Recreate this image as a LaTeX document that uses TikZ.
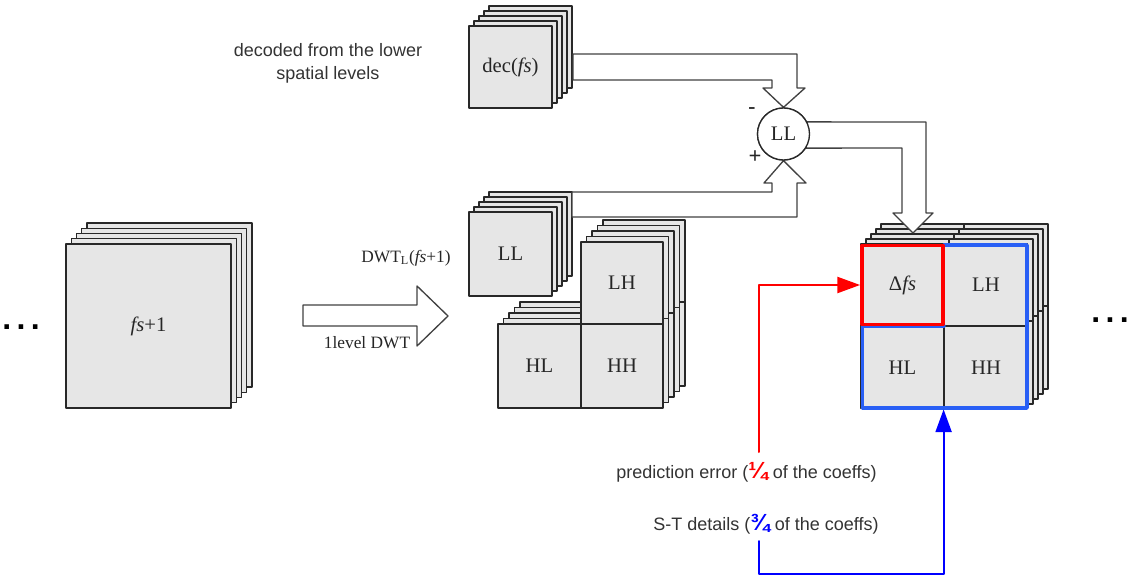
\documentclass[tikz,border=0pt]{standalone}
\usepackage{fontspec}
\setmainfont{Liberation Serif}
\setsansfont{Liberation Sans}
\usetikzlibrary{arrows.meta}

\definecolor{sheetfill}{RGB}{230,230,230}
\definecolor{edgegray}{RGB}{40,40,40}
\definecolor{pipegray}{RGB}{65,65,65}
\definecolor{errred}{RGB}{255,0,0}
\definecolor{detblue}{RGB}{0,0,255}
\definecolor{boxblue}{RGB}{40,95,245}

\newcommand{\coeffpart}[2]{{\color{#1}\sffamily\bfseries\fontsize{17.5}{17}\selectfont #2}}

\begin{document}
\begin{tikzpicture}[
                x=0.75pt,
                y=-0.75pt,
                line cap=round,
                line join=round,
                sheet/.style={draw=edgegray, fill=sheetfill, line width=1.1pt},
                pipe/.style={draw=pipegray, fill=white, line width=1pt},
                cell/.style={sheet, minimum width=62.5pt, minimum height=61.75pt, inner sep=0pt, lbl},
                lbl/.style={font=\fontsize{15.5}{17}\selectfont, text=black!85, inner sep=1pt},
                dwtlbl/.style={font=\fontsize{13}{15}\selectfont, text=black!85, inner sep=1pt},
                note/.style={font=\sffamily\fontsize{13.5}{17.25}\selectfont, text=black!80, align=center, inner sep=1pt},
                ellip/.style={font=\sffamily\bfseries\fontsize{24}{24}\selectfont, inner sep=0pt},
                flow/.style={line width=1.5pt, ->},
                >={Triangle[length=17pt,width=12pt]}
            ]

            \useasboundingbox (0,0) rectangle (1132,578);

            % fs+1 frames
            \foreach \k in {4,...,0}
                \draw[sheet] ({66+5.25*\k},{244-5.25*\k}) rectangle +(165,164);
            \node[lbl] (fsnext) at (148.5,326) {\textit{fs}+1};

            \node[ellip] (dotsleft) at (21,327) {.\hspace{4pt}.\hspace{4pt}.};
            \node[ellip] (dotsright) at (1110,320) {.\hspace{4pt}.\hspace{4pt}.};

            % one level DWT
            \draw[pipe] (303,305) -- (417,305) -- (417,286) -- (448,316)
                -- (417,346) -- (417,326) -- (303,326) -- cycle;
            \node[dwtlbl] (dwtlab) at (406,258) {DWT\textsubscript{L}(\textit{fs}+1)};
            \node[dwtlbl] (onelevel) at (367,343) {1level DWT};

            % decoded frames
            \foreach \k in {4,...,0}
                \draw[sheet] ({469+5*\k},{26-5*\k}) rectangle +(83,82);
            \node[lbl] (dec) at (510.5,67) {dec(\textit{fs})};
            \node[note] (decnote) at (328,63) {decoded from the lower\\spatial levels};

            % LL subbands
            \foreach \k in {4,...,0}
                \draw[sheet] ({469+5*\k},{212-5*\k}) rectangle +(83,84);
            \node[lbl] (llmid) at (510.5,254) {LL};

            % detail subbands
            \foreach \k in {4,...,0} {
                \draw[sheet] ({581+5.5*\k},{242-5.5*\k}) rectangle +(82,82);
                \draw[sheet] ({498+5.5*\k},{324-5.5*\k}) rectangle +(83,84);
                \draw[sheet] ({581+5.5*\k},{324-5.5*\k}) rectangle +(82,84);
            }
            \node[lbl] (lhmid) at (622,283) {LH};
            \node[lbl] (hlmid) at (539.5,366) {HL};
            \node[lbl] (hhmid) at (622,366) {HH};

            % predicted frames
            \foreach \k in {4,...,1} {
                \draw[sheet] ({861+5*\k},{244-5*\k}) rectangle +(167,165);
                \draw[edgegray, line width=1.1pt]
                ({944+5*\k},{244-5*\k}) -- +(0,165)
                ({861+5*\k},{326-5*\k}) -- +(167,0);
            }
            \node[cell] (dfs) at (902.5,285) {Δ\textit{fs}};
            \node[cell] (lhright) at (986,285) {LH};
            \node[cell] (hlright) at (902.5,367.5) {HL};
            \node[cell] (hhright) at (986,367.5) {HH};

            \draw[boxblue, line width=2.6pt]
            (944,245) -- (1027,245) -- (1027,408) -- (862.5,408) -- (862.5,326) -- (944,326);
            \draw[errred, line width=2.6pt] (862,245.5) rectangle (943,324.5);

            % block arrows round the LL difference
            \node[circle, draw=edgegray, line width=1pt, minimum size=39pt, inner sep=0pt] (sum) at (783.5,134) {};
            \draw[pipe] (573,54) -- (797,54) -- (797,88) -- (805,88) -- (sum.north)
                -- (763,88) -- (772,88) -- (772,80) -- (573,80) -- cycle;
            \draw[pipe] (572,192) -- (772,192) -- (772,183) -- (764,183) -- (sum.south)
                -- (806,183) -- (797,183) -- (797,217) -- (572,217) -- cycle;
            \draw[pipe] (sum.27.5) -- (926,122) -- (926,213) -- (933,213) -- (913,233)
                -- (893,213) -- (902,213) -- (902,148) -- (sum.-32.6) -- cycle;
            \node[circle, draw=edgegray, fill=white, line width=1pt, minimum size=39pt, inner sep=0pt, lbl] at (sum) {LL};
            \node[lbl, font=\bfseries\fontsize{16}{17}\selectfont] (minus) at (752,111) {-};
            \node[lbl, font=\bfseries\fontsize{17}{17}\selectfont] (plus) at (755,157) {+};

            % which coefficients are coded
            \node[note] (prednote) at (746.5,472) {prediction error (\coeffpart{errred}{¼} of the coeffs)};
            \node[note] (stnote) at (766,524) {S-T details (\coeffpart{detblue}{¾} of the coeffs)};
            \coordinate (errfrom) at (759,452);
            \coordinate (stfrom) at (759,541);

            \draw[errred, flow] (errfrom) |- (dfs.west);
            \draw[detblue, flow] (stfrom) -- ++(0,33) -| (hhright.south west);

        \end{tikzpicture}
\end{document}
